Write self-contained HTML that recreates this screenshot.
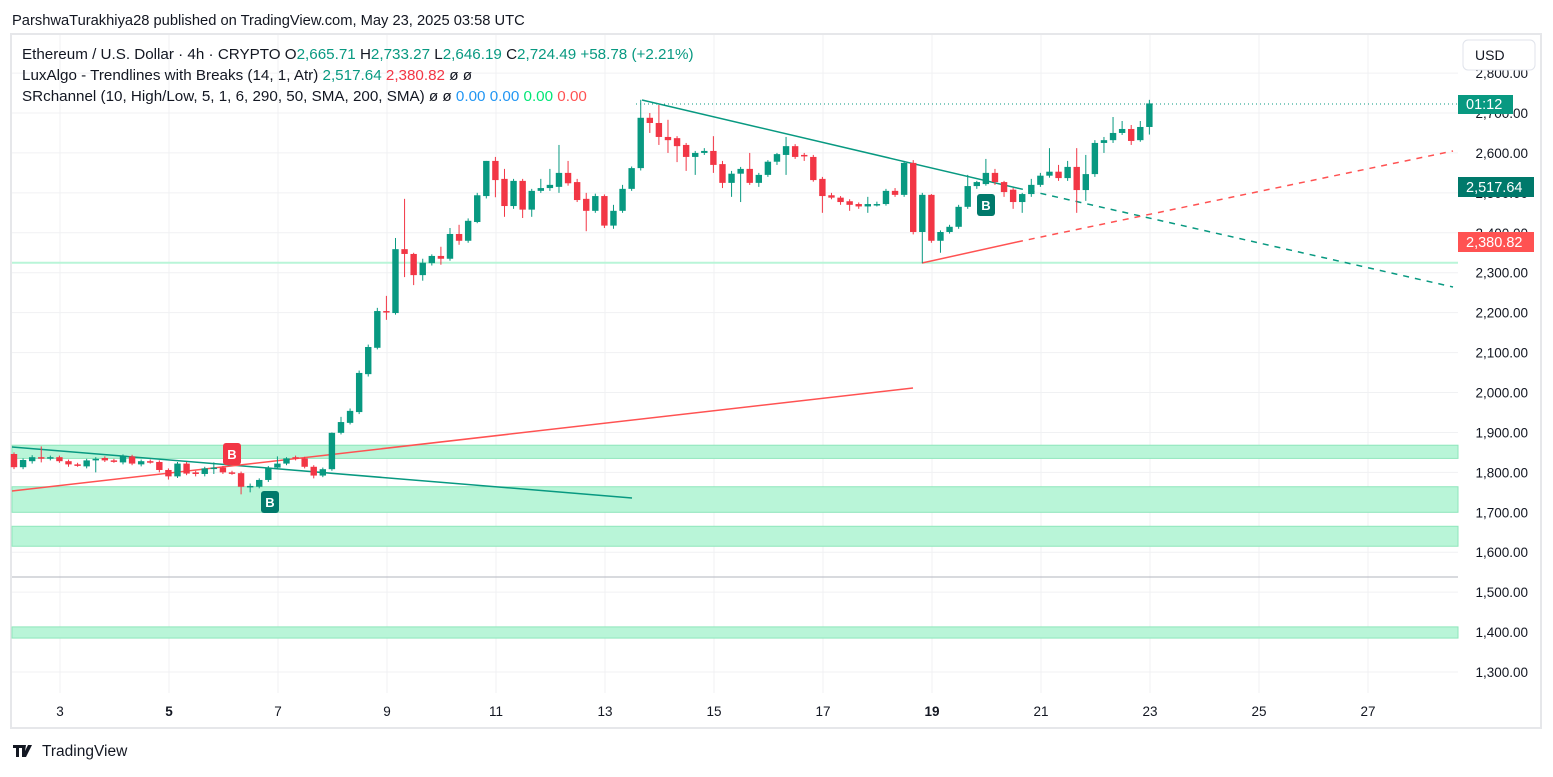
<!DOCTYPE html>
<html><head><meta charset="utf-8"><style>
body{margin:0;background:#fff;font-family:"Liberation Sans",sans-serif;}
svg text{font-family:"Liberation Sans",sans-serif;}
</style></head><body>
<svg id="c" width="1553" height="772" xmlns="http://www.w3.org/2000/svg">
<rect x="0" y="0" width="1553" height="772" fill="#fff"/>
<text x="12" y="25" font-size="14.7" fill="#131722">ParshwaTurakhiya28 published on TradingView.com, May 23, 2025 03:58 UTC</text>
<rect x="11" y="34" width="1530" height="694" fill="none" stroke="#e6e7ea" stroke-width="2"/>
<g id="grid"></g><g id="zones"></g><g id="lines"></g><g id="candles"></g><g id="labels"></g><g id="axis"></g>
<text x="22" y="59" font-size="15.2" fill="#131722">Ethereum / U.S. Dollar · 4h · CRYPTO <tspan>O</tspan><tspan fill="#089981">2,665.71</tspan> H<tspan fill="#089981">2,733.27</tspan> L<tspan fill="#089981">2,646.19</tspan> C<tspan fill="#089981">2,724.49 +58.78 (+2.21%)</tspan></text>
<text x="22" y="80" font-size="15.2" fill="#131722">LuxAlgo - Trendlines with Breaks (14, 1, Atr) <tspan fill="#089981">2,517.64</tspan> <tspan fill="#f23645">2,380.82</tspan> ø ø</text>
<text x="22" y="101" font-size="15.2" fill="#131722">SRchannel (10, High/Low, 5, 1, 6, 290, 50, SMA, 200, SMA) ø ø <tspan fill="#2196f3">0.00</tspan> <tspan fill="#2196f3">0.00</tspan> <tspan fill="#00e676">0.00</tspan> <tspan fill="#ff5252">0.00</tspan></text>
<g id="tags"></g>
<rect x="1463" y="40" width="72" height="30" rx="5" fill="#fff" stroke="#e0e3eb"/>
<text x="1475" y="60" font-size="14" fill="#131722">USD</text>
<g><path d="M13 745h9v3h-3v9h-3v-9h-3zM22 745h4l-1 6 3-6h4l-6 12h-4z" fill="#131722"/><text x="42" y="756" font-size="15.5" fill="#131722">TradingView</text></g>
</svg>
<script>
const NS="http://www.w3.org/2000/svg";
const opens=[1846,1813,1828,1838,1836,1838,1828,1820,1815,1830,1836,1830,1825,1840,1820,1828,1826,1806,1790,1822,1800,1796,1810,1812,1800,1798,1764,1764,1781,1812,1822,1838,1835,1814,1792,1808,1899,1924,1951,2046,2112,2204,2199,2359,2347,2294,2324,2342,2335,2397,2380,2427,2492,2580,2535,2467,2530,2458,2505,2512,2515,2550,2527,2485,2455,2492,2418,2455,2510,2562,2688,2675,2640,2637,2620,2590,2600,2605,2572,2525,2548,2560,2525,2545,2578,2595,2617,2595,2590,2535,2494,2488,2479,2472,2466,2472,2472,2505,2495,2575,2402,2495,2380,2402,2415,2465,2517,2522,2550,2527,2508,2477,2497,2520,2543,2553,2537,2565,2507,2547,2625,2632,2650,2660,2632,2665];
const closes=[1813,1831,1838,1836,1838,1828,1820,1818,1830,1834,1830,1828,1840,1822,1828,1826,1806,1790,1822,1797,1796,1810,1812,1800,1798,1764,1766,1781,1812,1822,1835,1836,1814,1792,1808,1899,1926,1954,2049,2114,2204,2202,2359,2347,2294,2325,2342,2335,2397,2380,2430,2494,2580,2532,2467,2530,2458,2505,2512,2520,2550,2524,2482,2455,2492,2418,2455,2510,2562,2688,2675,2640,2632,2617,2590,2600,2605,2570,2525,2548,2560,2525,2545,2578,2597,2617,2590,2593,2532,2492,2488,2477,2470,2466,2472,2472,2505,2495,2575,2402,2495,2380,2402,2415,2465,2517,2527,2550,2527,2502,2477,2497,2520,2543,2553,2537,2565,2507,2547,2625,2632,2650,2660,2630,2665,2724];
const highs=[1850,1835,1843,1865,1842,1842,1832,1824,1834,1838,1840,1834,1845,1844,1832,1832,1830,1810,1826,1826,1804,1814,1825,1816,1804,1802,1772,1785,1816,1840,1838,1842,1839,1818,1812,1900,1939,1960,2055,2120,2212,2242,2387,2485,2350,2335,2346,2365,2412,2420,2436,2500,2580,2590,2560,2535,2535,2510,2535,2560,2620,2580,2535,2500,2498,2496,2470,2520,2566,2733,2700,2720,2683,2642,2625,2605,2612,2642,2580,2555,2565,2600,2550,2582,2600,2640,2622,2600,2595,2540,2500,2492,2484,2476,2490,2478,2510,2512,2580,2582,2500,2497,2406,2420,2470,2545,2530,2585,2560,2530,2512,2500,2535,2550,2612,2570,2580,2612,2595,2632,2640,2690,2680,2670,2680,2733];
const lows=[1808,1808,1822,1825,1830,1824,1814,1814,1810,1800,1826,1824,1820,1818,1815,1822,1800,1782,1786,1793,1790,1790,1796,1796,1794,1745,1750,1760,1776,1808,1818,1830,1810,1785,1788,1804,1895,1920,1946,2040,2108,2182,2195,2289,2269,2280,2318,2320,2330,2370,2375,2424,2486,2489,2440,2460,2437,2440,2500,2505,2500,2518,2477,2404,2450,2412,2410,2450,2505,2556,2650,2620,2600,2577,2555,2545,2595,2550,2512,2490,2477,2520,2515,2540,2570,2545,2585,2580,2528,2450,2484,2470,2455,2460,2450,2466,2468,2490,2490,2396,2324,2375,2350,2398,2410,2460,2510,2518,2520,2490,2460,2450,2490,2515,2538,2530,2530,2450,2480,2540,2600,2625,2645,2620,2628,2646];
const priceTicks=[1300,1400,1500,1600,1700,1800,1900,2000,2100,2200,2300,2400,2500,2600,2700,2800];
const dayLabels=["3","5","7","9","11","13","15","17","19","21","23","25","27"];
const dayValues=[3,5,7,9,11,13,15,17,19,21,23,25,27];
const boldDays=[5,19];
const zoneLow=[1835,1700,1615,1385];
const zoneHigh=[1868,1764,1665,1413];
const X=i=>14+i*9.083;
const dayX=d=>60+(d-3)*54.5;
const Y=p=>113+(2700-p)*0.3993;
function el(t,a,p){const e=document.createElementNS(NS,t);for(const k in a)e.setAttribute(k,a[k]);document.getElementById(p).appendChild(e);return e;}
priceTicks.forEach(p=>{const l=el('line',{x1:12,x2:1458,y1:Y(p),y2:Y(p),stroke:'#f0f1f3'},'grid');


const t=el('text',{x:1528,y:Y(p)+5,'font-size':13.5,fill:'#131722','text-anchor':'end'},'axis');t.textContent=p.toLocaleString('en-US',{minimumFractionDigits:2});

});
dayValues.forEach((d,i)=>{const l=el('line',{x1:dayX(d),x2:dayX(d),y1:35,y2:693,stroke:'#f0f1f3'},'grid');


const t=el('text',{x:dayX(d),y:716,'font-size':13.5,fill:'#131722','text-anchor':'middle','font-weight':boldDays.includes(d)?'bold':'normal'},'axis');t.textContent=dayLabels[i];

});
zoneLow.forEach((lo,i)=>{const r=el('rect',{x:12,y:Y(zoneHigh[i]),width:1446,height:Y(lo)-Y(zoneHigh[i]),fill:'#b9f5d8',stroke:'#8ee6bb','stroke-width':1},'zones');

});
function ln(x1,y1,x2,y2,c,dash,name,w){const l=el('line',{x1,y1,x2,y2,stroke:c,'stroke-width':w||1.5},'lines');if(dash)l.setAttribute('stroke-dasharray',dash);

}
ln(12,Y(2325),1458,Y(2325),'#b9f5d8',null,'sr-line',2);
ln(12,Y(1538),1458,Y(1538),'#b2b5be',null,'gray-level',1);
ln(636,104,1458,104,'#089981','1 3','last-price-line',1);
ln(12,447,632,498,'#089981',null,'resistance-trendline-1');
ln(12,491,913,388,'#ff5252',null,'support-trendline-1');
ln(642,100,1017,188,'#089981',null,'resistance-trendline-2');
ln(1017,188,1453,287,'#089981','6 6','resistance-extension');
ln(922,263,1017,242,'#ff5252',null,'support-trendline-2');
ln(1017,242,1453,151,'#ff5252','6 6','support-extension');
opens.forEach((o,i)=>{const c=closes[i],up=c>=o,col=up?'#089981':'#f23645',x=X(i);
const w=el('line',{x1:x,x2:x,y1:Y(highs[i]),y2:Y(lows[i]),stroke:col,'stroke-width':1},'candles');


const top=Y(Math.max(o,c)),h=Math.max(1.5,Math.abs(Y(o)-Y(c)));
const b=el('rect',{x:x-3.2,y:top,width:6.4,height:h,fill:col},'candles');

});
function lab(x,y,col,up,name){const g=el('g',{},'labels');
const r=document.createElementNS(NS,'rect');r.setAttribute('x',x);r.setAttribute('y',y);r.setAttribute('width',18);r.setAttribute('height',22);r.setAttribute('rx',3);r.setAttribute('fill',col);g.appendChild(r);
const t=document.createElementNS(NS,'text');t.setAttribute('x',x+9);t.setAttribute('y',y+16);t.setAttribute('font-size',13);t.setAttribute('font-weight','bold');t.setAttribute('fill','#fff');t.setAttribute('text-anchor','middle');t.textContent='B';g.appendChild(t);}
lab(223,443,'#f23645',false,'break-label-bear');
lab(261,491,'#00796b',true,'break-label-bull-1');
lab(977,194,'#00796b',true,'break-label-bull-2');
function tag(y,h,w,col,txt,name){const r=el('rect',{x:1458,y:y,width:w,height:h,fill:col},'tags');


const t=el('text',{x:1466,y:y+h-5,'font-size':14.5,fill:'#fff'},'tags');t.textContent=txt;

}
tag(95,19,55,'#089981','01:12','countdown-tag');
tag(177,20,76,'#00796b','2,517.64','upper-trend-tag');
tag(232,20,76,'#ff5252','2,380.82','lower-trend-tag');
</script>
</body></html>
